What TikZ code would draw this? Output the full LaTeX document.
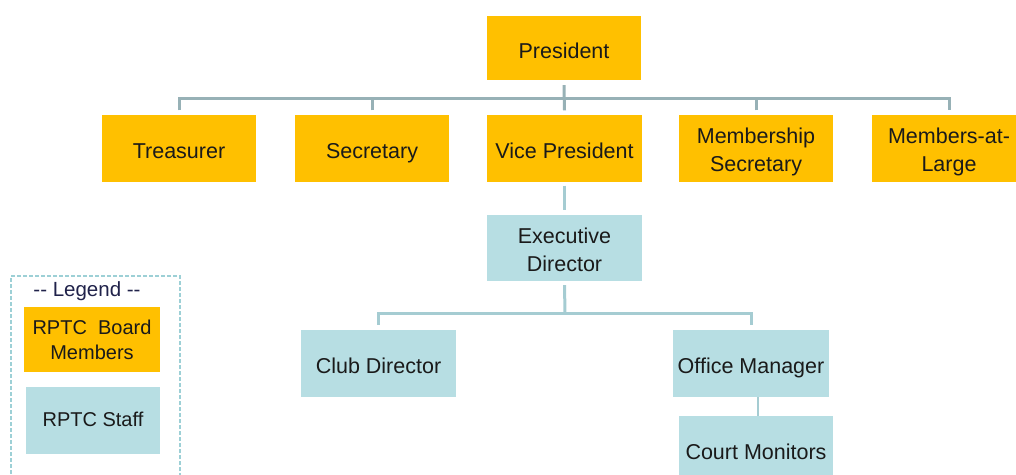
\documentclass[tikz,border=0pt]{standalone}
\usepackage{fontspec}
\setmainfont{Liberation Sans}
\definecolor{board}{HTML}{FFC000}
\definecolor{staff}{HTML}{B7DEE3}
\definecolor{busa}{HTML}{97B1B6}
\definecolor{busb}{HTML}{A5CCD2}
\definecolor{legline}{HTML}{9DD0D6}
\definecolor{txt}{HTML}{1A1A1A}
\definecolor{legtxt}{HTML}{20224A}
\newcommand{\toplift}[1]{\rule{0pt}{#1}}
\tikzset{
  box/.style={inner sep=0pt, minimum width=154pt, minimum height=67pt, align=center, text=txt,
    font=\fontsize{21.5}{28}\selectfont,
    execute at begin node={\rule{0pt}{25pt}},
    execute at end node={\rule[-5pt]{0pt}{5pt}}},
  legboardtext/.style={font=\fontsize{20}{25}\selectfont},
  legstafftext/.style={font=\fontsize{20}{25}\selectfont,
    execute at begin node={\rule{0pt}{18pt}},
    execute at end node={\rule[-13pt]{0pt}{13pt}}},
  boardbox/.style={box, fill=board},
  staffbox/.style={box, fill=staff},
  busone/.style={draw=busa, line width=3pt},
  bustwo/.style={draw=busb, line width=3pt},
  thinline/.style={draw=busb, line width=1.2pt},
}
\begin{document}
\begin{tikzpicture}[x=1pt,y=-1pt]
\useasboundingbox (0,0) rectangle (1016,474);
% board
\node[boardbox, minimum height=64pt] (pres) at (564,48) {President};
\node[boardbox] (tre) at (179,148) {Treasurer};
\node[boardbox] (sec) at (372,148) {Secretary};
\node[boardbox, minimum width=155pt] (vp) at (564.5,148) {Vice President};
\node[boardbox] (ms) at (756,148) {\toplift{23pt}Membership\\Secretary};
\node[boardbox] (mal) at (949,148) {\toplift{23pt}Members-at-\\Large};
% staff
\node[staffbox, minimum width=155pt, minimum height=66pt] (exec) at (564.5,248) {\toplift{23pt}Executive\\Director};
\node[staffbox, minimum width=155pt] (club) at (378.5,363.5) {Club Director};
\node[staffbox, minimum width=156pt] (om) at (751,363.5) {Office Manager};
\node[staffbox, minimum height=66pt] (cm) at (756,449) {Court Monitors};
% connectors level 1
\coordinate (busa) at (565,98);
\draw[busone] ([yshift=-5pt]pres.south) -- ([yshift=4pt]vp.north);
\draw[busone] ([yshift=4pt]tre.north) |- (busa) -| ([yshift=4pt]mal.north);
\draw[busone] ([yshift=4pt]sec.north) -- (sec.north |- busa);
\draw[busone] ([yshift=4pt]ms.north) -- (ms.north |- busa);
% vp to exec
\draw[bustwo] ([yshift=-4pt]vp.south) -- ([yshift=5pt]exec.north);
% level 2
\coordinate (busb) at (565,313);
\draw[bustwo] ([yshift=-4pt]exec.south) -- (busb);
\draw[bustwo] ([yshift=5pt]club.north) |- (busb) -| ([yshift=5pt]om.north);
\draw[thinline] ([xshift=2pt]cm.north) -- ([xshift=2pt]cm.north |- om.south);
% legend
\node[draw=legline, line width=1.1pt, dash pattern=on 4pt off 2pt, inner sep=0pt,
  minimum width=169pt, minimum height=206pt] (legend) at (95.5,379) {};
\node[text=legtxt, font=\fontsize{20.5}{24}\selectfont, inner sep=0pt, anchor=base] (legtitle) at (87,296) {-{}-\ Legend -{}-};
\node[boardbox, legboardtext, minimum width=136pt, minimum height=65pt] (legboard) at (92,339.5) {\toplift{19.5pt}RPTC\ \ Board\\Members};
\node[staffbox, legstafftext, minimum width=134pt, minimum height=67pt] (legstaff) at (93,420.5) {RPTC Staff};
\end{tikzpicture}
\end{document}
